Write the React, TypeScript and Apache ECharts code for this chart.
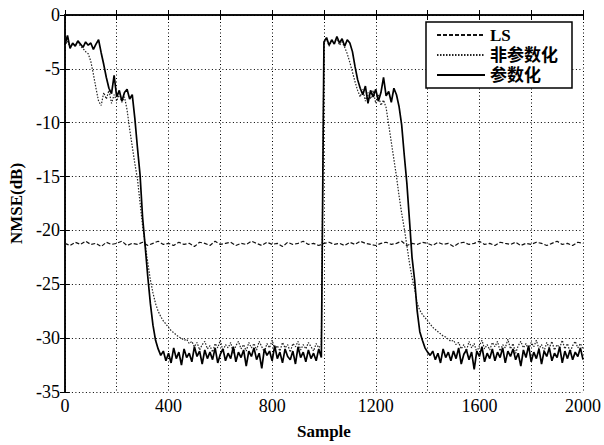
import { useEffect, useRef } from "react";
import * as echarts from "echarts";

// sample spacing of the tabulated values
const STEP = 10;
const LS_STEP = 20;

const seriesNames = ["LS", "非参数化", "参数化"];

// 参数化 (solid), samples 0..2000 every 10
const paramValues = [
  -2.8, -1.9, -3.1, -2.6, -2.9, -2.4, -2.7, -3.0, -2.5, -2.8,
  -2.6, -3.2, -2.7, -2.3, -3.5, -4.6, -5.8, -6.8, -7.3, -5.6,
  -7.6, -7.0, -8.0, -7.2, -6.9, -7.8, -7.4, -9.6, -12.3, -14.8,
  -18.8, -21.5, -24.3, -26.8, -28.8, -30.2, -31.0, -31.6, -31.2, -32.1,
  -31.4, -32.3, -30.9, -31.9, -31.3, -32.5, -31.0, -31.8, -31.4, -32.2,
  -30.8, -31.7, -31.2, -32.4, -31.1, -31.9, -31.3, -32.0, -30.9, -32.3,
  -31.5, -31.0, -32.1, -31.4, -31.9, -30.8, -32.2, -31.3, -31.8, -31.1,
  -32.6, -31.2, -31.7, -30.9, -32.0, -31.4, -32.8, -31.0, -31.6, -31.2,
  -32.1, -30.7, -31.9, -31.3, -32.3, -31.0, -31.7, -32.0, -31.2, -32.4,
  -30.8, -31.8, -31.3, -32.2, -31.1, -31.9, -31.4, -32.1, -31.0, -31.8,
  -2.5, -2.1, -2.8, -2.3, -2.7, -2.0, -2.6, -2.2, -2.9, -2.3,
  -2.6, -3.4, -4.8, -6.0, -6.8, -7.4, -6.6, -8.2, -7.0, -7.6,
  -6.9, -8.0, -7.2, -5.8, -7.5, -7.1, -8.1, -6.8, -7.4, -8.5,
  -10.2, -13.0, -15.6, -19.0, -22.5, -24.6, -27.5, -29.4, -30.2, -30.9,
  -31.3, -31.6, -31.2, -32.0, -31.4, -32.3, -31.0, -31.8, -31.3, -32.1,
  -31.2, -31.9, -30.9, -32.4, -31.5, -31.1, -32.0, -31.3, -32.9, -31.2,
  -31.7, -30.8, -32.2, -31.4, -31.9, -31.0, -32.1, -31.3, -31.8, -30.9,
  -32.3, -31.2, -31.7, -31.0, -32.0, -31.4, -32.6, -31.1, -31.8, -30.7,
  -32.2, -31.3, -31.9, -31.0, -32.4, -31.2, -31.7, -30.9, -32.1, -31.4,
  -31.8, -30.8, -32.3, -31.2, -31.9, -31.1, -32.0, -31.3, -31.7, -30.9,
  -32.0,
];

// 非参数化 (dotted), samples 0..2000 every 10
const nonParamValues = [
  -2.9, -2.4, -3.0, -2.7, -2.8, -2.5, -2.9, -3.1, -3.4, -3.6,
  -4.3, -5.5, -6.8, -8.0, -8.4, -7.2, -7.8, -7.0, -8.2, -7.4,
  -8.0, -7.3, -8.1, -7.6, -8.8, -10.6, -12.2, -13.8, -15.2, -17.4,
  -19.6, -21.3, -23.0, -24.6, -25.8, -26.8, -27.5, -28.0, -28.4, -28.7,
  -29.0, -29.3, -29.5, -29.7, -29.9, -30.0, -30.2, -30.1, -30.5, -30.3,
  -30.8, -30.4, -31.1, -30.6, -30.3, -31.0, -30.7, -31.3, -30.5, -30.9,
  -30.2, -31.2, -30.6, -30.9, -30.4, -31.4, -30.7, -30.3, -31.0, -30.6,
  -31.2, -30.4, -30.9, -30.5, -31.1, -30.3, -30.8, -31.3, -30.5, -30.9,
  -30.2, -31.0, -30.7, -31.2, -30.4, -30.9, -30.6, -31.3, -30.5, -30.8,
  -30.3, -31.1, -30.6, -31.0, -30.4, -30.8, -31.2, -30.5, -30.9, -30.6,
  -2.6, -2.2, -2.9, -2.4, -2.6, -2.1, -2.8, -2.5, -3.0, -3.6,
  -4.4, -5.3, -6.2, -7.0, -7.6, -6.9, -8.0, -7.2, -7.8, -7.0,
  -8.2, -7.4, -8.4, -7.9, -8.6, -10.2, -11.8, -13.4, -15.0, -16.8,
  -18.4, -19.8, -21.4, -23.0, -24.4, -25.4, -26.8, -27.4, -27.8, -28.1,
  -28.4, -28.7, -29.0, -29.2, -29.4, -29.6, -29.8, -29.9, -30.1, -30.3,
  -30.2, -30.6, -30.4, -31.0, -30.6, -31.2, -30.3, -30.9, -30.5, -31.3,
  -30.7, -30.2, -31.0, -30.6, -31.1, -30.4, -30.8, -30.3, -31.2, -30.6,
  -30.9, -30.1, -31.0, -30.5, -31.4, -30.7, -30.3, -30.9, -30.5, -31.1,
  -30.4, -30.8, -30.2, -31.0, -30.6, -31.2, -30.4, -30.9, -30.3, -31.1,
  -30.6, -30.9, -30.2, -31.0, -30.5, -31.3, -30.7, -30.3, -30.9, -30.5,
  -31.0,
];

// LS (dashed), samples 0..2000 every 20
const lsValues = [
  -21.2, -21.4, -21.1, -21.3, -21.0, -21.3, -21.2, -21.5, -21.1, -21.3,
  -21.2, -21.0, -21.4, -21.2, -21.3, -21.1, -21.4, -21.2, -21.0, -21.3,
  -21.2, -21.4, -21.1, -21.3, -21.2, -21.5, -21.1, -21.2, -21.4, -21.0,
  -21.3, -21.2, -21.1, -21.4, -21.2, -21.3, -21.0, -21.2, -21.4, -21.1,
  -21.3, -21.2, -21.5, -21.1, -21.3, -21.2, -21.0, -21.3, -21.2, -21.4,
  -21.2, -21.1, -21.3, -21.2, -21.4, -21.1, -21.3, -21.0, -21.2, -21.3,
  -21.4, -21.2, -21.1, -21.3, -21.2, -21.0, -21.4, -21.2, -21.3, -21.1,
  -21.2, -21.4, -21.1, -21.3, -21.2, -21.5, -21.2, -21.1, -21.3, -21.2,
  -21.0, -21.3, -21.2, -21.4, -21.1, -21.2, -21.3, -21.1, -21.4, -21.2,
  -21.3, -21.1, -21.2, -21.4, -21.2, -21.0, -21.3, -21.2, -21.4, -21.1,
  -21.2,
];

const xMin = 0, xMax = 2000, xInterval = 200, xLabelEvery = 400;
const yMin = -35, yMax = 0, yInterval = 5;

const SERIF = "'Liberation Serif', 'Times New Roman', serif";
const LEGEND_FONT = "'Liberation Serif', 'Noto Sans CJK SC', serif";

const toPairs = (vals: number[], step: number) => vals.map((v, i) => [i * step, v]);

export default function App() {
  const ref = useRef<HTMLDivElement>(null);
  useEffect(() => {
    document.body.style.margin = "0";
    const chart = echarts.init(ref.current!, undefined, { renderer: "svg" });
    const axisLine = { show: true, lineStyle: { color: "#000", width: 1.5 } };
    const tick = { show: true, inside: true, length: 5, lineStyle: { color: "#000", width: 1 } };
    const split = { show: true, lineStyle: { color: "#000", type: [1, 2.5], width: 1 } };
    chart.setOption({
      animation: false,
      backgroundColor: "#fff",
      grid: { left: 64, top: 15, width: 522, height: 387, containLabel: false },
      legend: {
        orient: "vertical",
        left: 426,
        top: 22,
        itemWidth: 48,
        itemHeight: 10,
        itemGap: 2,
        padding: [4, 14, 4, 10],
        backgroundColor: "#fff",
        borderColor: "#000",
        borderWidth: 1.5,
        borderRadius: 0,
        data: seriesNames,
        itemStyle: { opacity: 0 },
        textStyle: { fontFamily: LEGEND_FONT, fontSize: 17, fontWeight: "bold", color: "#000", lineHeight: 18 },
      },
      xAxis: [
        {
          type: "value", min: xMin, max: xMax, interval: xInterval, position: "bottom",
          name: "Sample", nameLocation: "middle", nameGap: 31,
          nameTextStyle: { fontFamily: SERIF, fontSize: 17, fontWeight: "bold", color: "#000" },
          axisLine, axisTick: tick, splitLine: split,
          axisLabel: {
            margin: 5, fontFamily: SERIF, fontSize: 18, color: "#000",
            formatter: (v: number) => (v % xLabelEvery === 0 ? String(v) : ""),
          },
        },
        {
          type: "value", min: xMin, max: xMax, interval: xInterval, position: "top",
          axisLine, axisTick: tick, splitLine: { show: false }, axisLabel: { show: false },
        },
      ],
      yAxis: [
        {
          type: "value", min: yMin, max: yMax, interval: yInterval, position: "left",
          name: "NMSE(dB)", nameLocation: "middle", nameGap: 38, nameRotate: 90,
          nameTextStyle: { fontFamily: SERIF, fontSize: 17, fontWeight: "bold", color: "#000" },
          axisLine, axisTick: tick, splitLine: split,
          axisLabel: { margin: 5, fontFamily: SERIF, fontSize: 18, color: "#000" },
        },
        {
          type: "value", min: yMin, max: yMax, interval: yInterval, position: "right",
          axisLine, axisTick: tick, splitLine: { show: false }, axisLabel: { show: false },
        },
      ],
      series: [
        {
          name: seriesNames[0], type: "line", data: toPairs(lsValues, LS_STEP),
          showSymbol: false, symbol: "none", z: 2,
          lineStyle: { color: "#111", width: 1.2, type: [4, 2] },
          itemStyle: { color: "#111" },
        },
        {
          name: seriesNames[1], type: "line", data: toPairs(nonParamValues, STEP),
          showSymbol: false, symbol: "none", z: 3,
          lineStyle: { color: "#222", width: 1.2, type: [1.5, 1.5] },
          itemStyle: { color: "#222" },
        },
        {
          name: seriesNames[2], type: "line", data: toPairs(paramValues, STEP),
          showSymbol: false, symbol: "none", z: 4,
          lineStyle: { color: "#000", width: 1.7, type: "solid" },
          itemStyle: { color: "#000" },
        },
      ],
    });
    return () => chart.dispose();
  }, []);
  return <div ref={ref} style={{ width: 604, height: 445 }} />;
}
